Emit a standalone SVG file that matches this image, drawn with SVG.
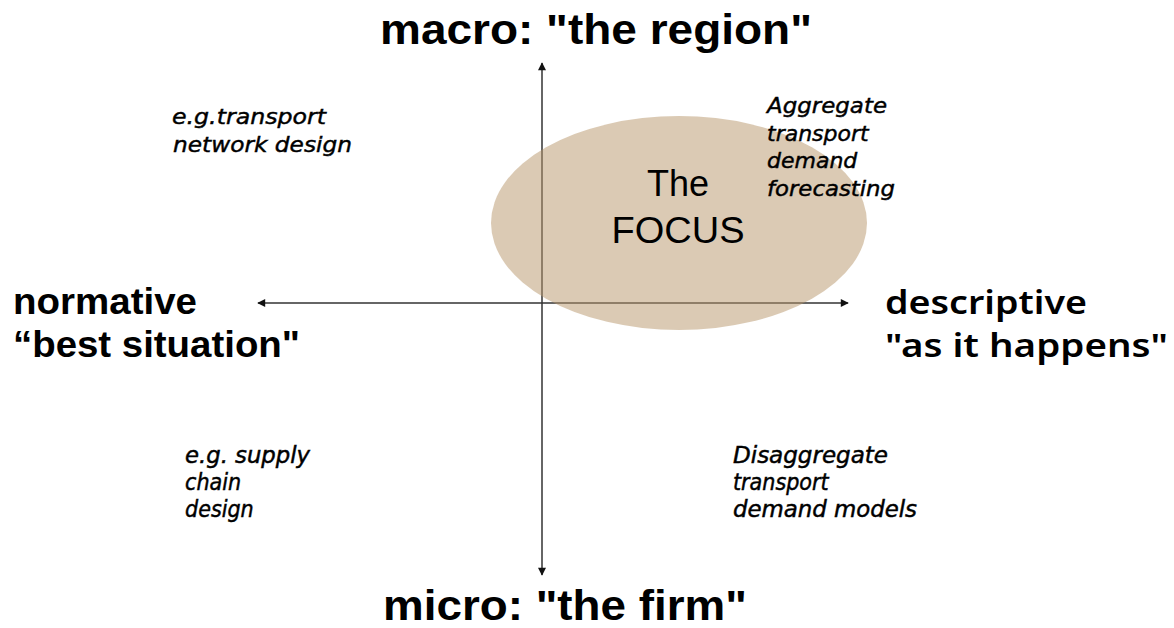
<svg xmlns="http://www.w3.org/2000/svg" width="1174" height="628" viewBox="0 0 1174 628">
<style>
.axis{stroke:#333;stroke-width:1.5;fill:none}
.title{font-family:"Liberation Sans",Arial,sans-serif;font-weight:bold;font-size:43px;fill:#000}
.side{font-family:"Liberation Sans",Arial,sans-serif;font-weight:bold;font-size:37px;fill:#000}
.side2{font-family:"Noto Sans","DejaVu Sans",sans-serif;font-weight:600;font-size:33px;fill:#000}
.note{font-family:"DejaVu Sans",sans-serif;font-style:italic;font-size:22px;fill:#000;stroke:#000;stroke-width:0.45}
.notec{font-family:"DejaVu Sans Condensed","DejaVu Sans",sans-serif;font-stretch:condensed;font-style:italic;font-size:23px;fill:#000;stroke:#000;stroke-width:0.45}
.focus{font-family:"Liberation Sans",Arial,sans-serif;font-size:36px;fill:#000}
</style>
<defs>
<marker id="arr" viewBox="0 0 10 10" refX="9" refY="5" markerWidth="10" markerHeight="8" markerUnits="userSpaceOnUse" orient="auto">
<path d="M0,0 L10,5 L0,10 z" fill="#111"/>
</marker>
</defs>
<rect width="1174" height="628" fill="#fff"/>
<g id="connectors">
<line class="axis" x1="542" y1="303" x2="542" y2="63" marker-end="url(#arr)"/>
<line class="axis" x1="542" y1="303" x2="542" y2="575" marker-end="url(#arr)"/>
<line class="axis" x1="542" y1="303" x2="848" y2="303" marker-end="url(#arr)"/>
<line class="axis" x1="542" y1="303" x2="258" y2="303" marker-end="url(#arr)"/>
</g>
<g id="focus">
<ellipse cx="679" cy="223" rx="188" ry="107" fill="#b8966a" fill-opacity="0.5"/>
<text class="focus" x="678" y="196" text-anchor="middle">The</text>
<text class="focus" x="678" y="243" text-anchor="middle" textLength="133" lengthAdjust="spacingAndGlyphs">FOCUS</text>
</g>
<g id="macro">
<text class="title" x="380" y="44" textLength="432" lengthAdjust="spacingAndGlyphs">macro: "the region"</text>
</g>
<g id="micro">
<text class="title" x="383" y="620" textLength="364" lengthAdjust="spacingAndGlyphs">micro: "the firm"</text>
</g>
<g id="normative">
<text class="side" x="13" y="314" textLength="184" lengthAdjust="spacingAndGlyphs">normative</text>
<text class="side" x="13" y="357" textLength="287" lengthAdjust="spacingAndGlyphs">“best situation"</text>
</g>
<g id="descriptive">
<text class="side2" x="885" y="314" textLength="202" lengthAdjust="spacingAndGlyphs">descriptive</text>
<text class="side2" x="885" y="357" textLength="283" lengthAdjust="spacingAndGlyphs">"as it happens"</text>
</g>
<g id="network-design">
<text class="note" x="172" y="124" textLength="154" lengthAdjust="spacingAndGlyphs">e.g.transport</text>
<text class="note" x="173" y="152" textLength="179" lengthAdjust="spacingAndGlyphs">network design</text>
</g>
<g id="aggregate">
<text class="note" x="767" y="113" textLength="120" lengthAdjust="spacingAndGlyphs">Aggregate</text>
<text class="note" x="767" y="141">transport</text>
<text class="note" x="767" y="168">demand</text>
<text class="note" x="767" y="196" textLength="128" lengthAdjust="spacingAndGlyphs">forecasting</text>
</g>
<g id="supply-chain">
<text class="notec" x="185" y="463" textLength="125" lengthAdjust="spacingAndGlyphs">e.g. supply</text>
<text class="notec" x="185" y="490">chain</text>
<text class="notec" x="185" y="517">design</text>
</g>
<g id="disaggregate">
<text class="notec" x="733" y="463" textLength="155" lengthAdjust="spacingAndGlyphs">Disaggregate</text>
<text class="notec" x="733" y="490">transport</text>
<text class="notec" x="733" y="517" textLength="184" lengthAdjust="spacingAndGlyphs">demand models</text>
</g>
</svg>
